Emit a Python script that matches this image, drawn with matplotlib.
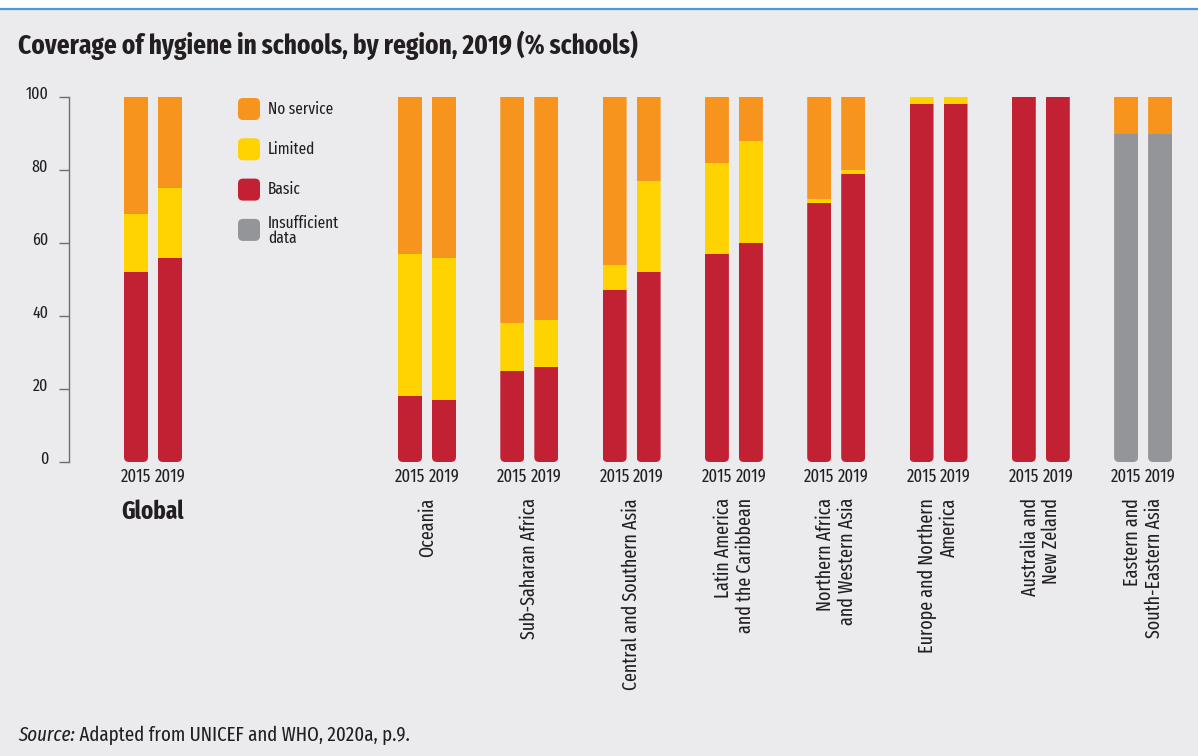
import matplotlib
matplotlib.use("Agg")
import matplotlib.pyplot as plt
from matplotlib.patches import FancyBboxPatch, Rectangle
from matplotlib.transforms import Affine2D, ScaledTranslation, blended_transform_factory
from matplotlib.lines import Line2D

plt.rcParams['font.family'] = ['Fira Sans Extra Condensed', 'Fira Sans Condensed', 'DejaVu Sans']

# data
regions = ['Global', 'Oceania', 'Sub-Saharan Africa', 'Central and Southern Asia',
           'Latin America\nand the Caribbean', 'Northern Africa\nand Western Asia',
           'Europe and Northern\nAmerica', 'Australia and\nNew Zeland',
           'Eastern and\nSouth-Eastern Asia']
years = ['2015', '2019']
# values per region, [2015, 2019]
basic = [[52, 56], [18, 17], [25, 26], [47, 52], [57, 60], [71, 79], [98, 98], [100, 100], [0, 0]]
limited = [[16, 19], [39, 39], [13, 13], [7, 25], [25, 28], [1, 1], [2, 2], [0, 0], [0, 0]]
no_service = [[32, 25], [43, 44], [62, 61], [46, 23], [18, 12], [28, 20], [0, 0], [0, 0], [10, 10]]
insufficient = [[0, 0], [0, 0], [0, 0], [0, 0], [0, 0], [0, 0], [0, 0], [0, 0], [90, 90]]

legend_labels = ['No service', 'Limited', 'Basic', 'Insufficient\ndata']
c_no, c_lim, c_basic, c_ins = '#f7941d', '#fed300', '#c22033', '#939598'
legend_colors = [c_no, c_lim, c_basic, c_ins]
bg = '#ebebed'
txt = '#231f20'

W, H = 1198, 756
fig = plt.figure(figsize=(W / 100, H / 100), dpi=100, facecolor=bg)
# pixel coordinates from the top-left corner
px = Affine2D().scale(1 / W, -1 / H).translate(0, 1) + fig.transFigure

fig.add_artist(Rectangle((0, 0), W, 8, transform=px, facecolor='white', edgecolor='none'))
fig.add_artist(Line2D([0, W], [8.5, 8.5], transform=px, color='#4a9bd3', lw=1.6))

ax_l, ax_r, ax_t, ax_b = 69, W, 97, 462
ax = fig.add_axes([ax_l / W, 1 - ax_b / H, (ax_r - ax_l) / W, (ax_b - ax_t) / H])
ax.set_facecolor('none')
ax.set_xlim(ax_l, ax_r)
ax.set_ylim(0, 100)
for s in ['top', 'right', 'bottom']:
    ax.spines[s].set_visible(False)
ax.spines['left'].set_color('#6d6e71')
ax.spines['left'].set_linewidth(1)
ax.set_xticks([])
ax.set_yticks([0, 20, 40, 60, 80, 100])
ax.tick_params(axis='y', length=7, width=1, color='#6d6e71', pad=8, labelsize=12.5, labelcolor=txt)
for lab in ax.get_yticklabels():
    lab.set_transform(lab.get_transform() + ScaledTranslation(0, 4 / 100, fig.dpi_scale_trans))

# layout of bar positions (pixels)
bar_w = 24
pair_off = 17
centers = [153] + [427 + 102.3 * i for i in range(len(regions) - 1)]
px_per_unit = (ax_b - ax_t) / 100.0

stack = [(insufficient, c_ins), (basic, c_basic), (limited, c_lim), (no_service, c_no)]
for gi, xc in enumerate(centers):
    for yi in range(2):
        x = xc + (yi - 0.5) * 2 * pair_off
        bottom = 0
        for series, col in stack:
            v = series[gi][yi]
            if v <= 0:
                continue
            b = ax.bar(x, v, bottom=bottom, width=bar_w, color=col, linewidth=0)[0]
            # rounded bottom corners
            clip = FancyBboxPatch((x - bar_w / 2, 0), bar_w, 130,
                                  boxstyle='round,pad=0,rounding_size=5',
                                  mutation_aspect=1 / px_per_unit,
                                  transform=ax.transData, facecolor='none', edgecolor='none')
            b.set_clip_path(clip)
            bottom += v

trans = blended_transform_factory(ax.transData, px)
for gi, xc in enumerate(centers):
    for yi in range(2):
        x = xc + (yi - 0.5) * 2 * pair_off
        ax.text(x, 477, years[yi], transform=trans, ha='center', va='center',
                fontsize=13, color=txt, clip_on=False)
    if gi == 0:
        ax.text(xc, 512, regions[gi], transform=trans, ha='center', va='center',
                fontsize=18, fontweight='bold', color=txt, clip_on=False)
    else:
        ax.text(xc, 498, regions[gi], transform=trans, ha='center', va='top',
                rotation=90, multialignment='right', fontsize=14.1, color=txt,
                linespacing=1.15, clip_on=False)

# legend
for i, (lab, col) in enumerate(zip(legend_labels, legend_colors)):
    y0 = 98 + i * 40.3
    fig.add_artist(FancyBboxPatch((238, y0), 22, 22, boxstyle='round,pad=0,rounding_size=5',
                                  transform=px, facecolor=col, edgecolor='none'))
    fig.text(268, y0 + 11 + (1 if '\n' in lab else 0), lab, transform=px, ha='left', va='center',
             fontsize=12, color=txt, linespacing=0.9)

fig.text(18, 45, 'Coverage of hygiene in schools, by region, 2019 (% schools)', transform=px,
         ha='left', va='center', fontsize=19.7, fontweight='bold', color=txt)
src = fig.text(18, 735, 'Source:', transform=px, ha='left', va='center', fontsize=14.8,
               style='italic', color=txt)
fig.add_artist(matplotlib.text.Annotation(' Adapted from UNICEF and WHO, 2020a, p.9.', xy=(1, 0.5),
                                          xycoords=src, ha='left', va='center', fontsize=14.8, color=txt))

fig.savefig('out.png', dpi=100, facecolor=bg)
